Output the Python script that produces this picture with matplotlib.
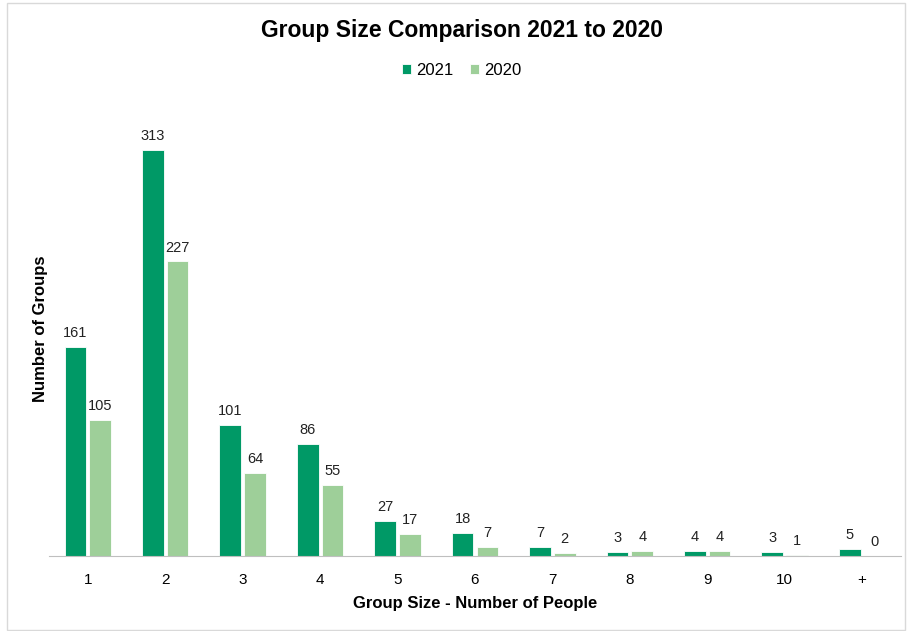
import matplotlib.pyplot as plt
import numpy as np
from matplotlib.patches import Rectangle

plt.rcParams['font.family'] = ['Liberation Sans', 'DejaVu Sans']

group_sizes = ['1', '2', '3', '4', '5', '6', '7', '8', '9', '10', '+']
groups_2021 = [161, 313, 101, 86, 27, 18, 7, 3, 4, 3, 5]
groups_2020 = [105, 227, 64, 55, 17, 7, 2, 4, 4, 1, 0]

dark_green = '#009966'
light_green = '#9ecf99'

fig = plt.figure(figsize=(9.09, 6.31), dpi=100)
ax = fig.add_axes([0.054, 0.119, 0.937, 0.7195])

x = np.arange(len(group_sizes))
width = 0.28
b1 = ax.bar(x - 0.16, groups_2021, width, color=dark_green, edgecolor='white', linewidth=0.6, label='2021')
b2 = ax.bar(x + 0.16, groups_2020, width, color=light_green, edgecolor='white', linewidth=0.6, label='2020')

for bars in (b1, b2):
    for bar in bars:
        h = bar.get_height()
        ax.annotate(f'{h:.0f}', (bar.get_x() + bar.get_width() / 2, h),
                    xytext=(0, 5), textcoords='offset points',
                    ha='center', va='bottom', fontsize=10.5, color='#222222')

ax.set_xlim(-0.5, len(group_sizes) - 0.5)
ax.set_ylim(0, 350)
ax.set_xticks(x)
ax.set_xticklabels(group_sizes, fontsize=11)
ax.set_yticks([])
ax.tick_params(axis='x', length=0, pad=12)
for side in ('top', 'right', 'left'):
    ax.spines[side].set_visible(False)
ax.spines['bottom'].set_color('#bfbfbf')

ax.set_xlabel('Group Size - Number of People', fontsize=12, fontweight='bold', labelpad=7)
ax.set_ylabel('Number of Groups', fontsize=12, fontweight='bold', labelpad=1)

fig.text(0.508, 0.952, 'Group Size Comparison 2021 to 2020', ha='center', va='center',
         fontsize=16.5, fontweight='bold')
fig.legend(loc='center', bbox_to_anchor=(0.508, 0.889), ncol=2, frameon=False,
           fontsize=12, handlelength=0.55, handleheight=0.55, handletextpad=0.3, columnspacing=1.0)

# light frame around the whole chart
fig.patches.append(Rectangle((0.0077, 0.002), 0.988, 0.994, transform=fig.transFigure,
                             fill=False, edgecolor='#d9d9d9', linewidth=1))

fig.savefig('out.png', dpi=100)
